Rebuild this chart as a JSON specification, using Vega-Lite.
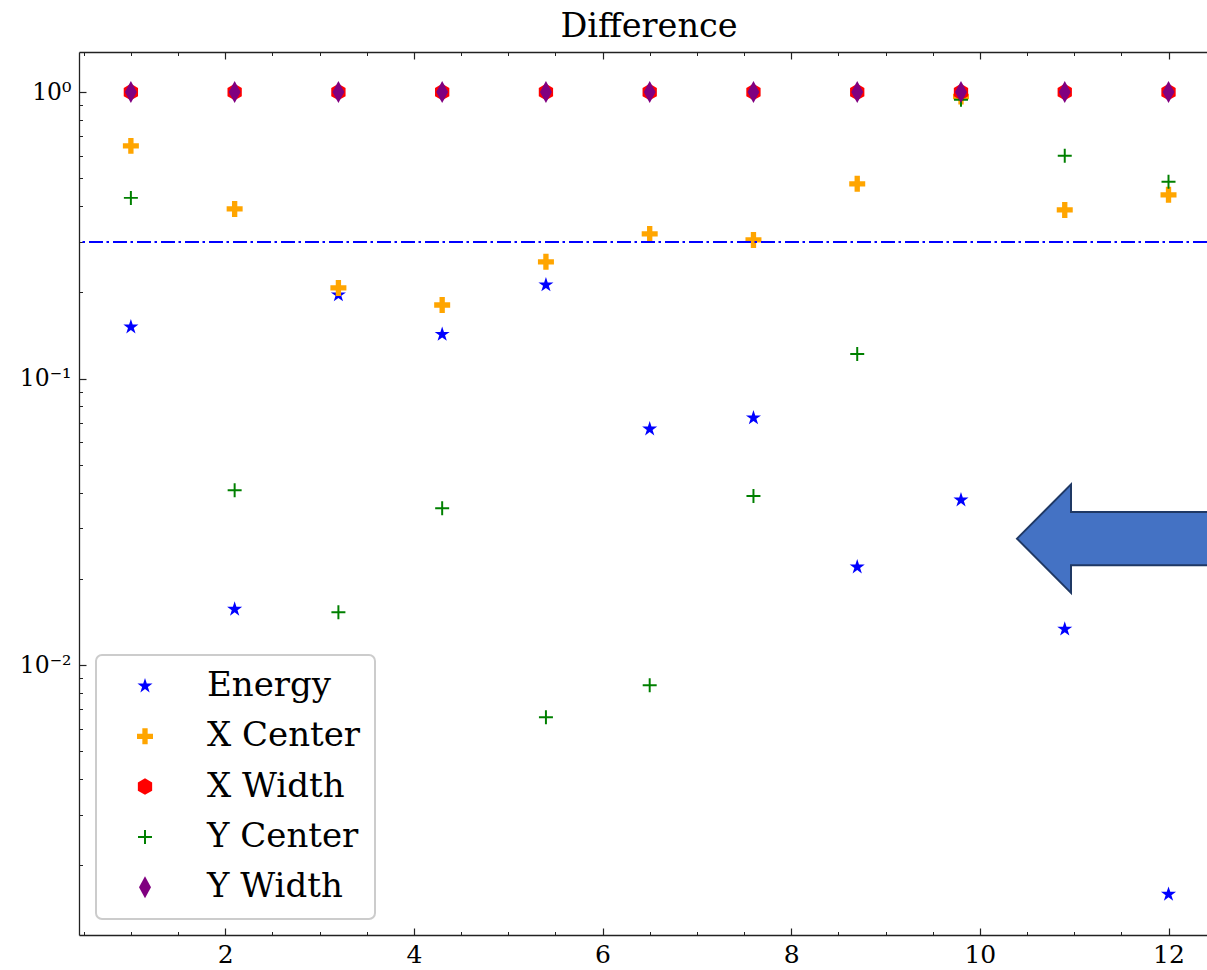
{
  "$schema": "https://vega.github.io/schema/vega-lite/v6.json",
  "autosize": {"type": "none"},
  "padding": {"left": 79, "top": 52, "right": 0, "bottom": 35},
  "width": 1128,
  "height": 883,
  "background": "white",
  "config": {"view": {"stroke": null}, "font": "DejaVu Serif", "legend": {"strokeWidth": 2}},
  "title": {"text": "Difference", "font": "DejaVu Serif", "fontSize": 33.5, "fontWeight": "normal", "anchor": "middle", "dx": 6, "offset": -19, "baseline": "alphabetic", "color": "black"},
  "datasets": {
    "pts": [
      {"series": "Energy", "x": 1, "y": 0.1514},
      {"series": "Energy", "x": 2.1, "y": 0.01567},
      {"series": "Energy", "x": 3.2, "y": 0.1959},
      {"series": "Energy", "x": 4.3, "y": 0.1426},
      {"series": "Energy", "x": 5.4, "y": 0.2123},
      {"series": "Energy", "x": 6.5, "y": 0.0667},
      {"series": "Energy", "x": 7.6, "y": 0.0729},
      {"series": "Energy", "x": 8.7, "y": 0.0220},
      {"series": "Energy", "x": 9.8, "y": 0.0377},
      {"series": "Energy", "x": 10.9, "y": 0.01335},
      {"series": "Energy", "x": 12, "y": 0.001585},
      {"series": "X Center", "x": 1, "y": 0.649},
      {"series": "X Center", "x": 2.1, "y": 0.391},
      {"series": "X Center", "x": 3.2, "y": 0.2072},
      {"series": "X Center", "x": 4.3, "y": 0.1807},
      {"series": "X Center", "x": 5.4, "y": 0.2555},
      {"series": "X Center", "x": 6.5, "y": 0.3199},
      {"series": "X Center", "x": 7.6, "y": 0.3048},
      {"series": "X Center", "x": 8.7, "y": 0.4783},
      {"series": "X Center", "x": 9.8, "y": 0.965},
      {"series": "X Center", "x": 10.9, "y": 0.388},
      {"series": "X Center", "x": 12, "y": 0.4378},
      {"series": "X Width", "x": 1, "y": 1.0},
      {"series": "X Width", "x": 2.1, "y": 1.0},
      {"series": "X Width", "x": 3.2, "y": 1.0},
      {"series": "X Width", "x": 4.3, "y": 1.0},
      {"series": "X Width", "x": 5.4, "y": 1.0},
      {"series": "X Width", "x": 6.5, "y": 1.0},
      {"series": "X Width", "x": 7.6, "y": 1.0},
      {"series": "X Width", "x": 8.7, "y": 1.0},
      {"series": "X Width", "x": 9.8, "y": 1.0},
      {"series": "X Width", "x": 10.9, "y": 1.0},
      {"series": "X Width", "x": 12, "y": 1.0},
      {"series": "Y Center", "x": 1, "y": 0.4273},
      {"series": "Y Center", "x": 2.1, "y": 0.0408},
      {"series": "Y Center", "x": 3.2, "y": 0.0153},
      {"series": "Y Center", "x": 4.3, "y": 0.0353},
      {"series": "Y Center", "x": 5.4, "y": 0.00658},
      {"series": "Y Center", "x": 6.5, "y": 0.00851},
      {"series": "Y Center", "x": 7.6, "y": 0.0389},
      {"series": "Y Center", "x": 8.7, "y": 0.1219},
      {"series": "Y Center", "x": 9.8, "y": 0.94},
      {"series": "Y Center", "x": 10.9, "y": 0.599},
      {"series": "Y Center", "x": 12, "y": 0.486},
      {"series": "Y Width", "x": 1, "y": 1.0},
      {"series": "Y Width", "x": 2.1, "y": 1.0},
      {"series": "Y Width", "x": 3.2, "y": 1.0},
      {"series": "Y Width", "x": 4.3, "y": 1.0},
      {"series": "Y Width", "x": 5.4, "y": 1.0},
      {"series": "Y Width", "x": 6.5, "y": 1.0},
      {"series": "Y Width", "x": 7.6, "y": 1.0},
      {"series": "Y Width", "x": 8.7, "y": 1.0},
      {"series": "Y Width", "x": 9.8, "y": 1.0},
      {"series": "Y Width", "x": 10.9, "y": 1.0},
      {"series": "Y Width", "x": 12, "y": 1.0}
    ],
    "thr": [{"thr": 0.3}],
    "arrow": [{"ax": 11.666, "ay": 0.02763}]
  },
  "layer": [
    {
      "data": {"name": "pts"},
      "mark": {"type": "point", "filled": true, "opacity": 1, "size": 484, "strokeWidth": 0},
      "encoding": {
        "x": {"field": "x", "type": "quantitative",
          "scale": {"type": "linear", "domain": [0.45, 12.408], "nice": false, "zero": false},
          "axis": {"orient": "bottom", "title": null, "values": [2, 4, 6, 8, 10, 12], "grid": false, "tickSize": -7, "labelPadding": 14, "labelFont": "DejaVu Serif", "labelFontSize": 25, "labelColor": "black", "domainColor": "#222222", "domainWidth": 1.3, "tickColor": "#222222", "tickWidth": 1.2, "labelFlush": false, "labelOverlap": false}},
        "y": {"field": "y", "type": "quantitative",
          "scale": {"type": "log", "domain": [0.001143, 1.38], "nice": false},
          "axis": {"orient": "left", "title": null, "values": [0.01, 0.1, 1], "labelExpr": "datum.value > 0.5 ? '10⁰' : datum.value > 0.05 ? '10⁻¹' : '10⁻²'", "grid": false, "tickSize": -7, "labelPadding": 15, "labelFont": "DejaVu Serif", "labelFontSize": 23.5, "labelColor": "black", "labelBaseline": "middle", "domainColor": "#222222", "domainWidth": 1.3, "tickColor": "#222222", "tickWidth": 1.2, "labelFlush": false, "labelOverlap": false}},
        "color": {"field": "series", "type": "nominal",
          "scale": {"domain": ["Energy", "X Center", "X Width", "Y Center", "Y Width"], "range": ["#0000ff", "#ffa500", "#ff0000", "#008000", "#800080"]},
          "legend": {"orient": "none", "legendX": 17, "legendY": 603, "title": null, "labelFont": "DejaVu Serif", "labelFontSize": 34, "labelColor": "black", "symbolSize": 484, "symbolOffset": 18, "labelOffset": 45, "padding": 14, "rowPadding": 16.3, "strokeColor": "#cccccc", "cornerRadius": 6, "fillColor": "white", "symbolStrokeWidth": 0, "symbolOpacity": 1}},
        "shape": {"field": "series", "type": "nominal",
          "scale": {"domain": ["Energy", "X Center", "X Width", "Y Center", "Y Width"], "range": [
            "M0,-0.72L0.1617,-0.2225L0.6848,-0.2225L0.2616,0.085L0.4232,0.5825L0,0.275L-0.4232,0.5825L-0.2616,0.085L-0.6848,-0.2225L-0.1617,-0.2225Z",
            "M-0.242,-0.727L0.242,-0.727L0.242,-0.242L0.727,-0.242L0.727,0.242L0.242,0.242L0.242,0.727L-0.242,0.727L-0.242,0.242L-0.727,0.242L-0.727,-0.242L-0.242,-0.242Z",
            "M0,-0.75L0.65,-0.375L0.65,0.375L0,0.75L-0.65,0.375L-0.65,-0.375Z",
            "M-0.09,-0.636L0.09,-0.636L0.09,-0.09L0.636,-0.09L0.636,0.09L0.09,0.09L0.09,0.636L-0.09,0.636L-0.09,0.09L-0.636,0.09L-0.636,-0.09L-0.09,-0.09Z",
            "M0,-1L0.545,0L0,1L-0.545,0Z"]},
          "legend": {"orient": "none", "legendX": 17, "legendY": 603, "title": null, "labelFont": "DejaVu Serif", "labelFontSize": 34, "labelColor": "black", "symbolSize": 484, "symbolOffset": 18, "labelOffset": 45, "padding": 14, "rowPadding": 16.3, "strokeColor": "#cccccc", "cornerRadius": 6, "fillColor": "white", "symbolStrokeWidth": 0, "symbolOpacity": 1}}
      }
    },
    {
      "data": {"name": "thr"},
      "mark": {"type": "rule", "color": "#0000ff", "strokeWidth": 2, "strokeDash": [14, 4, 2.5, 3.5]},
      "encoding": {
        "y": {"field": "thr", "type": "quantitative",
          "scale": {"type": "log", "domain": [0.001143, 1.38], "nice": false},
          "axis": {"orient": "left", "title": null, "values": [0.002, 0.003, 0.004, 0.005, 0.006, 0.007, 0.008, 0.009, 0.02, 0.03, 0.04, 0.05, 0.06, 0.07, 0.08, 0.09, 0.2, 0.3, 0.4, 0.5, 0.6, 0.7, 0.8, 0.9], "labels": false, "domain": false, "grid": false, "tickSize": -3.5, "tickColor": "#222222", "tickWidth": 1}}
      }
    },
    {
      "data": {"name": "arrow"},
      "mark": {"type": "point", "filled": true, "shape": "M-1,0L-0.55,-0.452L-0.55,-0.2225L1,-0.2225L1,0.2225L-0.55,0.2225L-0.55,0.452Z", "size": 57600, "fill": "#4472C4", "stroke": "#1F3864", "strokeWidth": 2, "opacity": 1},
      "encoding": {
        "x": {"field": "ax", "type": "quantitative",
          "scale": {"type": "linear", "domain": [0.45, 12.408], "nice": false, "zero": false},
          "axis": {"orient": "top", "title": null, "values": [2, 4, 6, 8, 10, 12], "labels": false, "grid": false, "tickSize": -7, "domainColor": "#222222", "domainWidth": 1.3, "tickColor": "#222222", "tickWidth": 1.2}},
        "y": {"field": "ay", "type": "quantitative",
          "scale": {"type": "log", "domain": [0.001143, 1.38], "nice": false},
          "axis": null}
      }
    },
    {
      "data": {"name": "pts"},
      "mark": {"type": "point", "opacity": 0},
      "encoding": {
        "x": {"field": "x", "type": "quantitative",
          "scale": {"type": "linear", "domain": [0.45, 12.408], "nice": false, "zero": false},
          "axis": {"orient": "bottom", "title": null, "values": [0.5, 1, 1.5, 2.5, 3, 3.5, 4.5, 5, 5.5, 6.5, 7, 7.5, 8.5, 9, 9.5, 10.5, 11, 11.5], "labels": false, "domain": false, "grid": false, "tickSize": -3.5, "tickColor": "#222222", "tickWidth": 1}},
        "y": {"field": "y", "type": "quantitative",
          "scale": {"type": "log", "domain": [0.001143, 1.38], "nice": false},
          "axis": null}
      }
    },
    {
      "data": {"name": "pts"},
      "mark": {"type": "point", "opacity": 0},
      "encoding": {
        "x": {"field": "x", "type": "quantitative",
          "scale": {"type": "linear", "domain": [0.45, 12.408], "nice": false, "zero": false},
          "axis": {"orient": "top", "title": null, "values": [0.5, 1, 1.5, 2.5, 3, 3.5, 4.5, 5, 5.5, 6.5, 7, 7.5, 8.5, 9, 9.5, 10.5, 11, 11.5], "labels": false, "domain": false, "grid": false, "tickSize": -3.5, "tickColor": "#222222", "tickWidth": 1}},
        "y": {"field": "y", "type": "quantitative",
          "scale": {"type": "log", "domain": [0.001143, 1.38], "nice": false},
          "axis": null}
      }
    }
  ],
  "resolve": {"axis": {"x": "independent", "y": "independent"}}
}
